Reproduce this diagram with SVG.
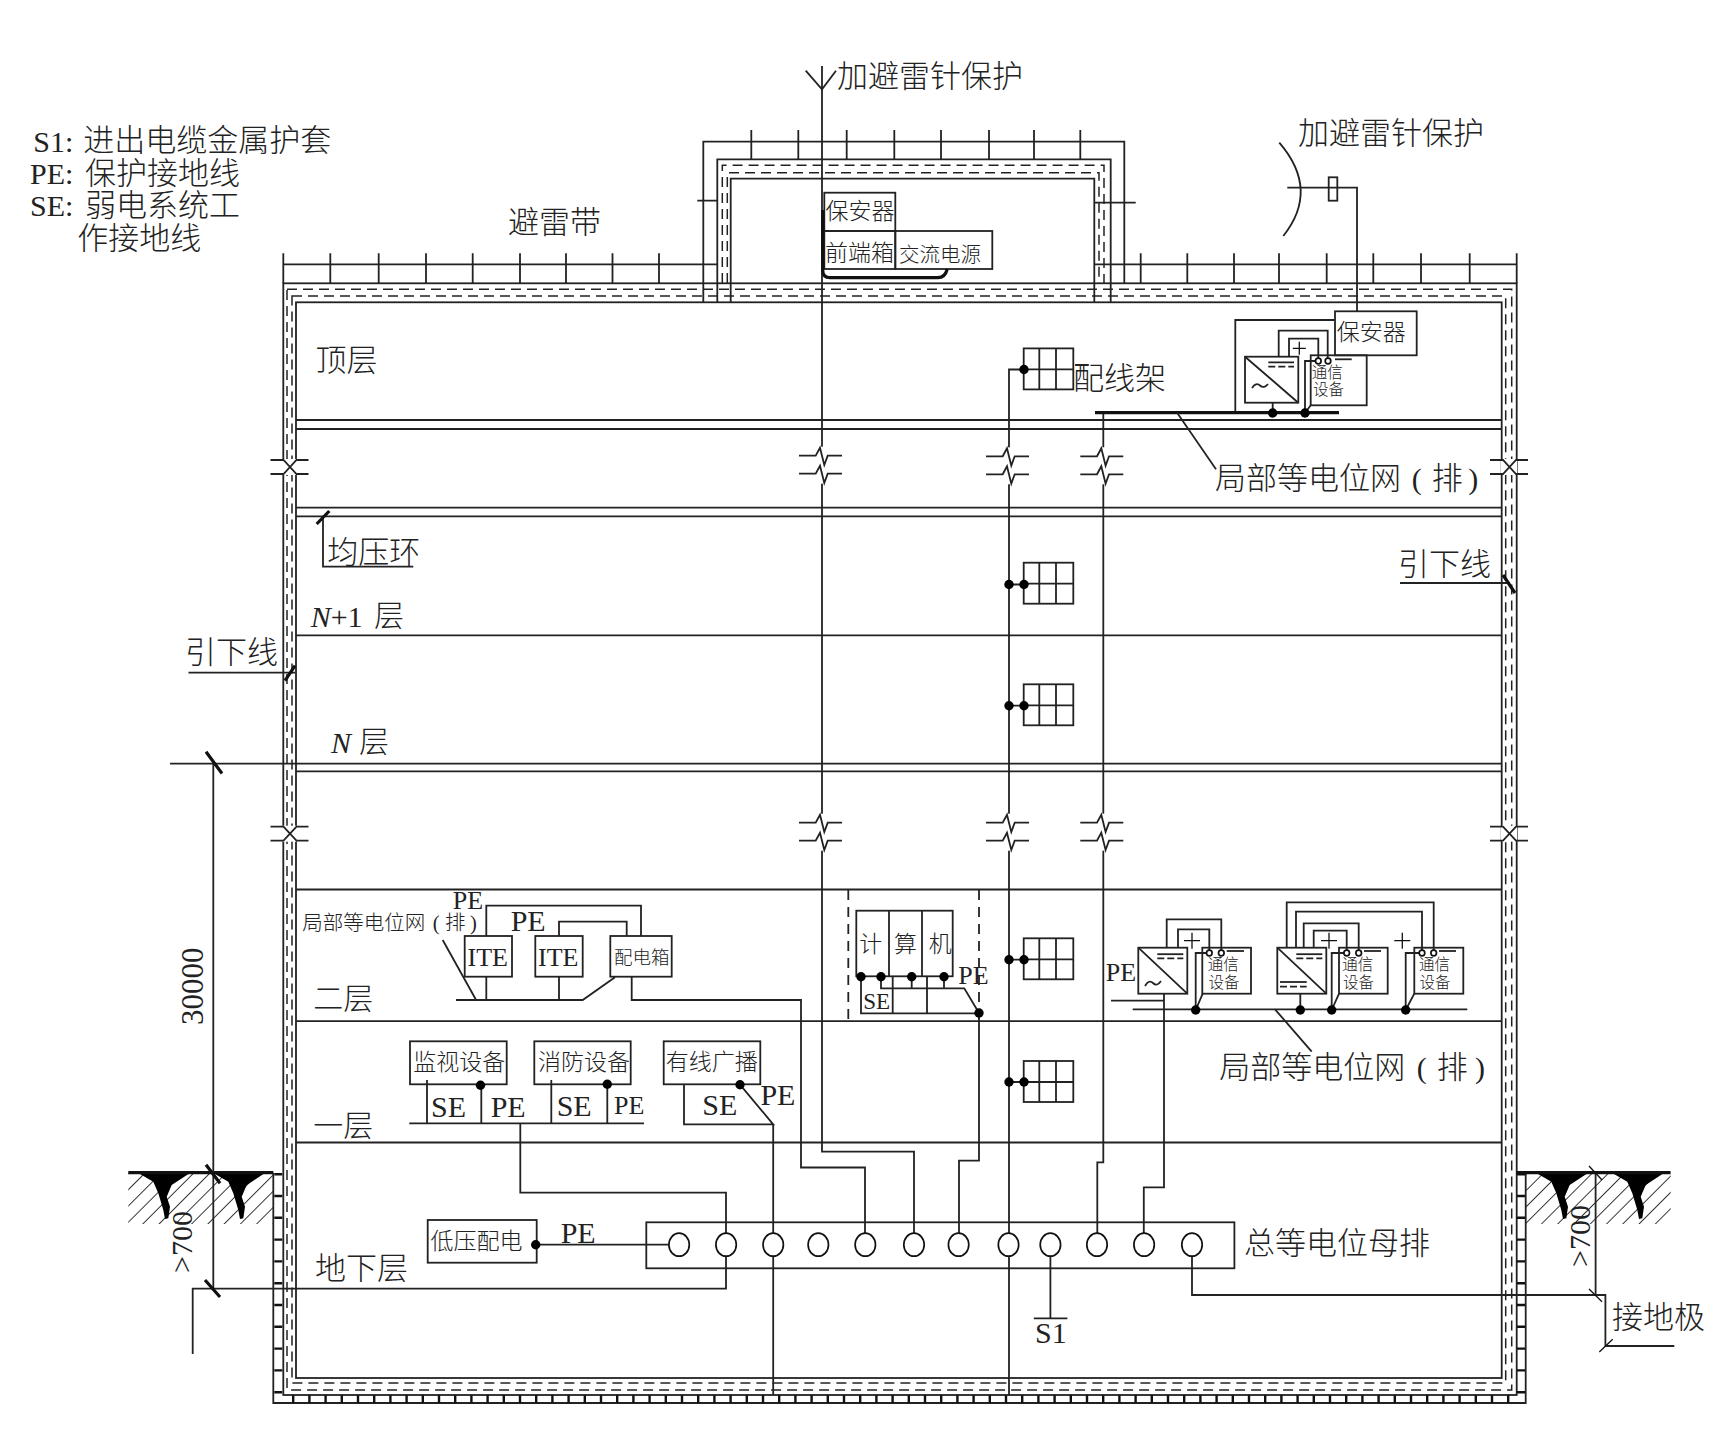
<svg xmlns="http://www.w3.org/2000/svg" width="1718" height="1456" viewBox="0 0 1718 1456">
<style>
text{font-family:"Liberation Serif","Noto Sans CJK SC",serif;fill:#222;font-weight:300}
.l{fill:none;stroke:#222;stroke-width:1.8}
.t{fill:none;stroke:#111;stroke-width:1.3}
.h{fill:none;stroke:#111;stroke-width:3.2}
.d{fill:none;stroke:#222;stroke-width:1.5;stroke-dasharray:10 6}
.dot{fill:#000}
.o{fill:#fff;stroke:#111;stroke-width:1.7}
.f31{font-size:31px}.f30{font-size:30px}.f26{font-size:26px}.f23{font-size:23px}.f21{font-size:20.5px}.f16{font-size:15.5px}
.i{font-style:italic}
</style>
<defs>
<pattern id="hatch" width="11.5" height="11.5" patternUnits="userSpaceOnUse" patternTransform="rotate(45)"><line x1="0" y1="0" x2="0" y2="11.5" stroke="#222" stroke-width="1.8"/></pattern>
<g id="brk"><rect x="-3" y="-9" width="6" height="37" fill="#fff"/><path class="l" d="M-23 0H-6.3L-2-8 2.3 9.3 5.7 0H20M-23 18H-6.3L-2 10 2.3 27.3 5.7 18H20"/></g>
<g id="wbrk"><rect x="-8" y="0" width="16" height="14" fill="#fff"/><rect x="-7" y="-1" width="14" height="16" fill="#fff"/><path class="l" d="M-19 0H-6L7 14H19M-19 14H-6L7 0H19"/></g>
<path id="root" class="dot" d="M130 1173H190L171.700 1185 166.700 1196.700 170 1206.700 168.300 1218.300 165 1219 163.300 1210 158.300 1193.300 153.300 1181.700 140 1174Z"/>
<g id="grid"><rect class="l" x="1023.700" y="0" width="49.600" height="41"/><path class="l" d="M1039.300 0V41M1056 0V41M1023.700 21H1073.300"/></g>
<g id="conv"><rect class="l" x="0" y="0" width="49" height="46"/><path class="l" d="M0 0L49 46"/><path class="l" d="M19 6.500H45"/><path class="l" d="M19 10.700H45" stroke-dasharray="7 3"/></g>
</defs>

<g id="building">
<rect class="l" x="283.300" y="283.300" width="1233.400" height="1111.700"/>
<rect class="d" x="287" y="289.300" width="1224.700" height="1100.700"/>
<rect class="d" x="292" y="296" width="1213.700" height="1087"/>
<rect class="l" x="296" y="302.300" width="1205.700" height="1075.700"/>
<path class="l" d="M273.300 1172.700V1403H1525.700V1172.700"/>
<path stroke="#111" fill="none" stroke-width="8" stroke-dasharray="2.400 19.400" d="M278.300 1173V1395"/>
<path stroke="#111" fill="none" stroke-width="8" stroke-dasharray="2.400 19.400" d="M1521 1173V1395"/>
<path stroke="#111" fill="none" stroke-width="8" stroke-dasharray="2.400 13.800" d="M292 1399H1516"/>
<path class="l" d="M296 420H1501.700M296 429H1501.700M296 507.700H1501.700M296 516.300H1501.700M296 635.300H1501.700M170 763.700H1501.700M296 771.400H1501.700M296 889.500H1501.700M296 1021.200H1501.700M296 1142.500H1501.700"/>
<use href="#wbrk" x="289.500" y="460"/><use href="#wbrk" x="289.500" y="826.700"/><use href="#wbrk" x="1509" y="460"/><use href="#wbrk" x="1509" y="826.700"/>
</g>

<g id="tower">
<path class="l" d="M703.300 302V141.700H1124.300V283"/>
<path class="l" d="M717.300 302V159.300H1110.700V302"/>
<path class="l" d="M730.700 302V178.700H1094.300V302"/>
<path class="d" d="M722.300 283V165.300H1104V283"/>
<path class="d" d="M727.300 283V172.700H1099V283"/>
<path class="l" d="M751.300 130V159.300M798.300 130V159.300M846.700 130V159.300M894.300 130V159.300M941 130V159.300M989 130V159.300M1034 130V159.300M1080.300 130V159.300M697.300 200.700H717.300M1094.300 202.700H1135.700"/>
</g>

<g id="roof-strip">
<path class="l" d="M283.300 264.300H717.300M1094.300 264.300H1516.700"/>
<path class="l" d="M283.300 253.300V283.300M330.300 253.300V283.300M378.700 253.300V283.300M426 253.300V283.300M472.700 253.300V283.300M520 253.300V283.300M566 253.300V283.300M612.500 253.300V283.300M659 253.300V283.300M1140.700 253.300V283.300M1187.300 253.300V283.300M1234 253.300V283.300M1279 253.300V283.300M1326.700 253.300V283.300M1373.300 253.300V283.300M1421 253.300V283.300M1469.700 253.300V283.300M1516.700 253.300V283.300"/>
<text class="f31" x="508" y="233">避雷带</text>
</g>

<g id="ground-left">
<rect x="128.300" y="1173" width="145" height="51" fill="url(#hatch)"/>
<use href="#root"/><use href="#root" x="75"/>
<path class="h" d="M128.300 1172.700H273.300"/>
</g>
<g id="ground-right">
<rect x="1525.700" y="1173" width="145" height="51" fill="url(#hatch)"/>
<use href="#root" x="1398"/><use href="#root" x="1474"/>
<path class="h" d="M1516.700 1172.700H1670.600"/>
</g>

<g id="connectors">
<path class="l" d="M822 66V1151.700H914V1233"/>
<path class="l" d="M805.700 70.700L822 89.300 836 70.700"/>
<path class="l" d="M1024 369.500H1009V1395"/>
<path class="l" d="M1103.300 412.700V1162.300H1097.300V1233"/>
<path class="l" d="M1164 993.700V1187.300H1143.800V1233"/>
<path class="l" d="M979 1013V1160.700H959V1233"/>
<path class="l" d="M631.700 976.700V1000H801V1167.500H865V1233"/>
<path class="l" d="M520.300 1123.300V1192.700H726V1233"/>
<path class="l" d="M726 1256V1288.700H192.700V1354"/>
<path class="l" d="M773.200 1124V1395"/>
<path class="l" d="M1192 1256V1295H1605.400V1346H1674.300"/>
<path class="t" d="M1599.300 1352L1612.700 1339.300"/>
<path class="l" d="M535.700 1244.700H669"/>
<path class="l" d="M1050.400 1256V1318.300"/>
<path class="l" d="M1033.800 1318.300H1067.400"/>
<use href="#brk" x="822" y="455.700"/><use href="#brk" x="1009" y="456.300"/><use href="#brk" x="1103.300" y="456.300"/>
<use href="#brk" x="822" y="822.700"/><use href="#brk" x="1009" y="822.700"/><use href="#brk" x="1103.300" y="822.700"/>
<path class="l" d="M1164 1000.700H1111"/>
<path class="l" d="M188.500 672.700H295"/>
<path class="h" d="M285 680.700L295 665.700"/>
<path class="l" d="M1400 583H1510"/>
<path class="h" d="M1503 575L1515 593"/>
<path class="l" d="M213.300 763.700V1288.700"/>
<path class="h" d="M206 751.700L222 773.500M206 1164.700L220 1183.300M205 1280L220 1297"/>
<path class="l" d="M1595.600 1172.700V1294.300"/>
<path class="t" d="M1589 1166L1602 1180M1589 1289L1602 1301.700"/>
<path class="l" d="M413.300 566.700H323V518"/>
<path class="h" d="M316.700 524L329.300 511"/>
</g>

<g id="labels">
<text class="f31" x="837" y="87">加避雷针保护</text>
<text class="f31" x="1298" y="144">加避雷针保护</text>
<text class="f30" x="33.300" y="151.700">S1:</text><text class="f31" x="83.300" y="151">进出电缆金属护套</text>
<text class="f30" x="30" y="184">PE:</text><text class="f31" x="85" y="184">保护接地线</text>
<text class="f30" x="30" y="215.700">SE:</text><text class="f31" x="85" y="216">弱电系统工</text>
<text class="f31" x="77.300" y="249">作接地线</text>
<text class="f31" x="315.600" y="371">顶层</text>
<text class="f31" x="327.300" y="563">均压环</text>
<text class="f30" x="310.700" y="626.500"><tspan class="i">N</tspan>+1</text><text class="f30" x="374" y="626">层</text>
<text class="f30" x="331" y="753"><tspan class="i">N</tspan></text><text class="f30" x="359" y="752">层</text>
<text class="f31" x="185" y="663">引下线</text>
<text class="f31" x="1398" y="575">引下线</text>
<text class="f30" x="313.300" y="1009">二层</text>
<text class="f30" x="313.300" y="1136">一层</text>
<text class="f31" x="315" y="1279">地下层</text>
<text class="f31" x="1073" y="389">配线架</text>
<text class="f31" x="1215" y="489">局部等电位网</text><text class="f30" x="1411.700" y="489">(</text><text class="f31" x="1431.700" y="489">排</text><text class="f30" x="1468.300" y="489">)</text>
<text class="f31" x="1219.300" y="1077.500">局部等电位网</text><text class="f30" x="1416.700" y="1077.500">(</text><text class="f31" x="1436.700" y="1077.500">排</text><text class="f30" x="1475" y="1077.500">)</text>
<text class="f21" x="302.300" y="930">局部等电位网</text><text class="f21" x="432.700" y="930">(</text><text class="f21" x="445" y="930">排</text><text class="f21" x="470" y="930">)</text>
<text class="f31" x="1244" y="1254">总等电位母排</text>
<text class="f31" x="1612" y="1328">接地极</text>
<text class="f30" x="1035" y="1343.300">S1</text>
<text class="f31" transform="translate(202.500 1025) rotate(-90)">30000</text>
<text class="f30" transform="translate(192 1273) rotate(-90)">&gt;700</text>
<text class="f30" transform="translate(1590 1267) rotate(-90)">&gt;700</text>
<text class="f30" x="560.700" y="1242.700">PE</text>
</g>

<g id="node-front-box">
<rect class="l" x="824.300" y="192.700" width="71" height="38.300"/>
<rect class="l" x="824.300" y="231" width="71" height="38"/>
<rect class="l" x="895.300" y="231" width="97" height="38"/>
<path class="h" d="M822.700 210V270Q822.700 277.700 830 277.700H938Q945 277.700 947.300 269"/>
<text class="f23" x="825.500" y="219">保安器</text>
<text class="f23" x="825" y="261">前端箱</text>
<text class="f21" x="899" y="262">交流电源</text>
</g>

<g id="node-top-antenna">
<path class="l" d="M1279.300 142.700Q1320 190 1283.300 236"/>
<path class="l" d="M1287.300 187.700H1357V311.300"/>
<rect class="l" x="1328.700" y="177.300" width="8.600" height="23.400"/>
</g>

<g id="node-top-equip">
<rect class="l" x="1335" y="311.300" width="81.700" height="44"/>
<text class="f23" x="1336.700" y="340">保安器</text>
<path class="l" d="M1335 320H1235.300V412.700"/>
<rect class="l" x="1245" y="356.700" width="53.300" height="46"/>
<path class="l" d="M1245 356.700L1298.300 402.700M1268.300 362.300H1294"/>
<path class="l" d="M1268.300 366.700H1294" stroke-dasharray="7 3"/>
<path class="l" d="M1252 388Q1256 382 1260 385.500T1268 384"/>
<path class="l" d="M1278.700 356.700V330.700H1327.700V358M1289 356.700V338.700H1318.300V358"/>
<path class="t" d="M1299.300 341.800V354.800M1292.800 348.300H1305.800"/>
<rect class="l" x="1310.700" y="355.300" width="56" height="50"/>
<path class="l" d="M1335 359.300H1351.700"/>
<text class="f16" x="1311.700" y="378">通信</text><text class="f16" x="1313" y="395">设备</text>
<path class="l" d="M1318.300 361H1305V413M1310.700 405.300L1305 413M1272.700 402.700V413"/>
<circle class="o" cx="1318.300" cy="361" r="2.800"/><circle class="o" cx="1328" cy="361" r="2.800"/>
<path class="h" d="M1095 412.700H1339"/>
<path class="l" d="M1177.300 413L1216 469.300"/>
<circle class="dot" cx="1272.700" cy="413" r="4.700"/><circle class="dot" cx="1305" cy="413" r="4.700"/>
</g>

<g id="node-patch-panels">
<use href="#grid" y="348.400"/><use href="#grid" y="562.700"/><use href="#grid" y="684.300"/><use href="#grid" y="938.300"/><use href="#grid" y="1061"/>
<circle class="dot" cx="1024" cy="369.500" r="4.700"/>
<path class="l" d="M1009 584.500H1024M1009 705.700H1024M1009 959.700H1024M1009 1082H1024"/>
<circle class="dot" cx="1009" cy="584.500" r="4.700"/><circle class="dot" cx="1024" cy="584.500" r="4.700"/>
<circle class="dot" cx="1009" cy="705.700" r="4.700"/><circle class="dot" cx="1024" cy="705.700" r="4.700"/>
<circle class="dot" cx="1009" cy="959.700" r="4.700"/><circle class="dot" cx="1024" cy="959.700" r="4.700"/>
<circle class="dot" cx="1009" cy="1082" r="4.700"/><circle class="dot" cx="1024" cy="1082" r="4.700"/>
</g>

<g id="node-ite">
<text class="f26" x="452.700" y="909.300">PE</text>
<text class="f30" x="510.700" y="931">PE</text>
<rect class="l" x="464.700" y="936" width="47.300" height="40.700"/>
<rect class="l" x="535.300" y="936" width="47.400" height="40.700"/>
<rect class="l" x="610.300" y="936" width="61.400" height="40.700"/>
<text class="f26" x="467.500" y="966">ITE</text><text class="f26" x="538" y="966">ITE</text>
<text font-size="18.500" x="614" y="964">配电箱</text>
<path class="l" d="M442.700 940L475.700 999.300"/>
<path class="l" d="M456 1000H582.700L615 977.300"/>
<path class="l" d="M486.300 976.700V1000M559 976.700V1000"/>
<path class="l" d="M486.300 936V905.700H641V936M559 936V921.700H626.700V936"/>
</g>

<g id="node-floor1">
<rect class="l" x="410" y="1041.300" width="96.700" height="43"/>
<rect class="l" x="534.300" y="1041.300" width="96.400" height="43"/>
<rect class="l" x="663.700" y="1041.300" width="96.600" height="43"/>
<text class="f23" x="413.300" y="1069.500">监视设备</text>
<text class="f23" x="538" y="1069.500">消防设备</text>
<text class="f23" x="665.700" y="1069.500">有线广播</text>
<path class="l" d="M409.300 1123.300H644M427 1080V1123.300M481.300 1085V1123.300M551.300 1080V1123.300M607.300 1084V1123.300"/>
<path class="l" d="M684 1084.300V1124.300H773.200L740 1084.700"/>
<circle class="dot" cx="480.500" cy="1085.300" r="4.700"/><circle class="dot" cx="607.300" cy="1084.300" r="4.700"/><circle class="dot" cx="740" cy="1084.700" r="4.700"/>
<text class="f30" x="431" y="1116.700">SE</text><text class="f30" x="490.700" y="1116.700">PE</text>
<text class="f30" x="556.700" y="1116">SE</text><text class="f26" x="614" y="1114.300">PE</text>
<text class="f30" x="702.300" y="1115">SE</text><text class="f30" x="760.400" y="1104.500">PE</text>
</g>

<g id="node-computer">
<path class="l" d="M848.300 890V1021M979 890V1021" stroke-dasharray="10 7"/>
<rect class="l" x="856.300" y="910.700" width="96.400" height="65.600"/>
<path class="l" d="M889 910.700V976.300M922 910.700V976.300"/>
<text class="f23" x="859.300" y="952">计</text><text class="f23" x="894" y="952">算</text><text class="f23" x="928.700" y="952">机</text>
<path class="l" d="M861 976.700V1013.300H979M892.700 976.300V1013.300M927 976.300V1013.300M881 976.700V988.300H964.300L979 1013M911.700 976.700V988.300M944 976.700V988.300"/>
<circle class="dot" cx="861" cy="976.700" r="4.700"/><circle class="dot" cx="881" cy="976.700" r="4.700"/><circle class="dot" cx="911.700" cy="976.700" r="4.700"/><circle class="dot" cx="944" cy="976.700" r="4.700"/><circle class="dot" cx="979" cy="1013" r="4.700"/>
<text class="f23" x="863.300" y="1009.300">SE</text><text class="f26" x="958.300" y="984">PE</text>
</g>

<g id="node-comms">
<text class="f26" x="1105.700" y="981">PE</text>
<use href="#conv" x="1138.300" y="947.700"/>
<path class="l" d="M1145 986Q1149 979 1153 983T1161 981"/>
<path class="l" d="M1166.700 947.700V919.300H1221.300V950M1178 947.700V929.300H1209.300V950"/>
<path class="t" d="M1192 932.700V948.700M1184 940.700H1200"/>
<rect class="l" x="1202.300" y="947.700" width="48.700" height="46"/>
<path class="l" d="M1226.700 951H1244"/>
<text class="f16" x="1207.700" y="970">通信</text><text class="f16" x="1208.500" y="987.600">设备</text>
<path class="l" d="M1209.300 953H1195.700V1010M1202.700 993.700L1195.700 1010"/>
<use href="#conv" x="1277.300" y="947.700"/>
<path class="l" d="M1280 982H1306.700"/><path class="l" d="M1280 986.700H1306.700" stroke-dasharray="7 3"/>
<path class="l" d="M1286.700 947.700V902.300H1433.700V950M1296 947.700V911.700H1422V950M1303.700 947.700V923.300H1358.700V950M1313.700 947.700V930.700H1346.700V950"/>
<path class="t" d="M1329 932.700V948.700M1321 940.700H1337"/>
<rect class="l" x="1339" y="947.700" width="48.700" height="46"/>
<path class="l" d="M1364 951H1381"/>
<text class="f16" x="1342.300" y="970">通信</text><text class="f16" x="1343" y="987.600">设备</text>
<path class="l" d="M1346.700 953H1331.700V1010M1339 993.700L1331.700 1010M1300.300 993.700V1010"/>
<path class="t" d="M1402.300 932.700V948.700M1394.300 940.700H1410.300"/>
<rect class="l" x="1414.300" y="947.700" width="49" height="46"/>
<path class="l" d="M1439 951H1456"/>
<text class="f16" x="1419" y="970">通信</text><text class="f16" x="1419.500" y="987.600">设备</text>
<path class="l" d="M1422 953H1405.700V1010M1414.300 993.700L1405.700 1010"/>
<path class="l" d="M1132.700 1009.300H1467.300"/>
<path class="l" d="M1275 1009.300L1311.700 1051.700"/>
<circle class="o" cx="1209.300" cy="953" r="2.800"/><circle class="o" cx="1221.300" cy="953" r="2.800"/>
<circle class="o" cx="1346.700" cy="953" r="2.800"/><circle class="o" cx="1358.700" cy="953" r="2.800"/>
<circle class="o" cx="1422" cy="953" r="2.800"/><circle class="o" cx="1433.700" cy="953" r="2.800"/>
<circle class="dot" cx="1195.700" cy="1010" r="4.700"/><circle class="dot" cx="1300.300" cy="1010" r="4.700"/><circle class="dot" cx="1331.700" cy="1010" r="4.700"/><circle class="dot" cx="1405.700" cy="1010" r="4.700"/>
</g>

<g id="node-lv">
<rect class="l" x="427.700" y="1220" width="109" height="42.700"/>
<text class="f23" x="430.500" y="1249">低压配电</text>
<circle class="dot" cx="535.700" cy="1244.700" r="4.700"/>
</g>

<g id="node-main-busbar">
<rect class="l" x="646.300" y="1222.300" width="588.100" height="46"/>
<g class="o">
<ellipse cx="679.100" cy="1244.700" rx="10.200" ry="11.500"/><ellipse cx="726.100" cy="1244.700" rx="10.200" ry="11.500"/><ellipse cx="773.200" cy="1244.700" rx="10.200" ry="11.500"/><ellipse cx="818.300" cy="1244.700" rx="10.200" ry="11.500"/><ellipse cx="865.300" cy="1244.700" rx="10.200" ry="11.500"/><ellipse cx="914" cy="1244.700" rx="10.200" ry="11.500"/><ellipse cx="958.600" cy="1244.700" rx="10.200" ry="11.500"/><ellipse cx="1008.500" cy="1244.700" rx="10.200" ry="11.500"/><ellipse cx="1050.400" cy="1244.700" rx="10.200" ry="11.500"/><ellipse cx="1097" cy="1244.700" rx="10.200" ry="11.500"/><ellipse cx="1144.100" cy="1244.700" rx="10.200" ry="11.500"/><ellipse cx="1192" cy="1244.700" rx="10.200" ry="11.500"/>
</g>
</g>
</svg>
